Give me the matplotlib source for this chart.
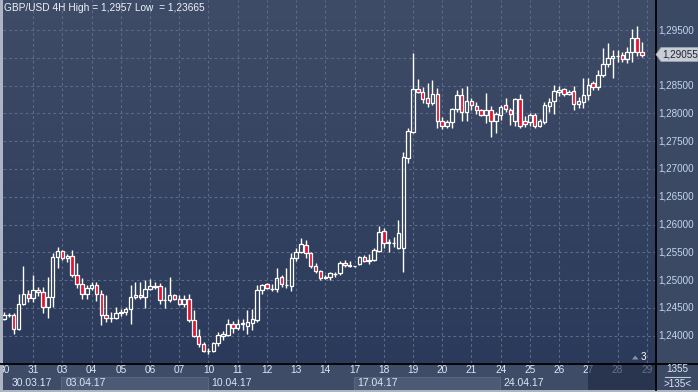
import numpy as np
import matplotlib.pyplot as plt
from matplotlib.patches import Rectangle, Polygon
from matplotlib.lines import Line2D
from matplotlib.colors import LinearSegmentedColormap
from matplotlib.transforms import blended_transform_factory

plt.rcParams['font.family'] = ['Liberation Sans', 'DejaVu Sans']

# GBP/USD 4H candles, 30.03.17 - 28.04.17
opens = [1.2430, 1.2437, 1.2437, 1.2412, 1.2457, 1.2475, 1.2468, 1.2482, 1.2478, 1.2451,
         1.2469, 1.2541, 1.2552, 1.2540, 1.2543, 1.2509, 1.2493, 1.2475, 1.2486, 1.2491,
         1.2475, 1.2437, 1.2432, 1.2432, 1.2441, 1.2442, 1.2448, 1.2469, 1.2473, 1.2470,
         1.2484, 1.2488, 1.2490, 1.2464, 1.2464, 1.2473, 1.2466, 1.2457, 1.2466, 1.2428,
         1.2399, 1.2385, 1.2372, 1.2373, 1.2387, 1.2400, 1.2401, 1.2421, 1.2414, 1.2421,
         1.2418, 1.2423, 1.2428, 1.2482, 1.2493, 1.2485, 1.2484, 1.2505, 1.2492, 1.2489,
         1.2540, 1.2550, 1.2563, 1.2549, 1.2525, 1.2516, 1.2504, 1.2505, 1.2512, 1.2513,
         1.2531, 1.2527, 1.2525, 1.2529, 1.2541, 1.2534, 1.2536, 1.2552, 1.2588, 1.2567,
         1.2566, 1.2558, 1.2558, 1.2720, 1.2766, 1.2844, 1.2838, 1.2828, 1.2819, 1.2835,
         1.2786, 1.2777, 1.2784, 1.2808, 1.2833, 1.2802, 1.2822, 1.2814, 1.2806, 1.2797,
         1.2806, 1.2786, 1.2797, 1.2815, 1.2806, 1.2786, 1.2826, 1.2786, 1.2784, 1.2797,
         1.2777, 1.2784, 1.2813, 1.2822, 1.2838, 1.2844, 1.2835, 1.2840, 1.2817, 1.2820,
         1.2833, 1.2855, 1.2847, 1.2869, 1.2889, 1.2900, 1.2903, 1.2905, 1.2898, 1.2910,
         1.2936, 1.2910]
highs = [1.2442, 1.2441, 1.2441, 1.2475, 1.2525, 1.2482, 1.2509, 1.2487, 1.2487, 1.2505,
         1.2549, 1.2559, 1.2554, 1.2547, 1.2554, 1.2530, 1.2504, 1.2491, 1.2496, 1.2496,
         1.2482, 1.2473, 1.2442, 1.2451, 1.2448, 1.2451, 1.2491, 1.2496, 1.2496, 1.2500,
         1.2502, 1.2496, 1.2495, 1.2487, 1.2505, 1.2475, 1.2473, 1.2473, 1.2475, 1.2446,
         1.2412, 1.2388, 1.2378, 1.2389, 1.2406, 1.2408, 1.2430, 1.2426, 1.2430, 1.2430,
         1.2446, 1.2448, 1.2491, 1.2493, 1.2495, 1.2493, 1.2522, 1.2509, 1.2522, 1.2549,
         1.2558, 1.2575, 1.2572, 1.2550, 1.2531, 1.2518, 1.2509, 1.2514, 1.2514, 1.2534,
         1.2536, 1.2534, 1.2526, 1.2543, 1.2545, 1.2547, 1.2558, 1.2597, 1.2594, 1.2574,
         1.2577, 1.2608, 1.2730, 1.2774, 1.2909, 1.2862, 1.2847, 1.2855, 1.2860, 1.2846,
         1.2793, 1.2788, 1.2810, 1.2842, 1.2846, 1.2849, 1.2828, 1.2820, 1.2808, 1.2837,
         1.2813, 1.2802, 1.2815, 1.2828, 1.2810, 1.2828, 1.2835, 1.2795, 1.2801, 1.2801,
         1.2790, 1.2820, 1.2828, 1.2851, 1.2849, 1.2846, 1.2842, 1.2849, 1.2829, 1.2864,
         1.2864, 1.2858, 1.2878, 1.2918, 1.2927, 1.2914, 1.2914, 1.2910, 1.2919, 1.2952,
         1.2957, 1.2928]
lows = [1.2428, 1.2433, 1.2403, 1.2410, 1.2455, 1.2460, 1.2460, 1.2471, 1.2441, 1.2432,
        1.2451, 1.2522, 1.2536, 1.2532, 1.2505, 1.2486, 1.2466, 1.2466, 1.2482, 1.2462,
        1.2419, 1.2424, 1.2424, 1.2430, 1.2435, 1.2437, 1.2421, 1.2466, 1.2466, 1.2450,
        1.2482, 1.2484, 1.2457, 1.2450, 1.2460, 1.2464, 1.2455, 1.2451, 1.2424, 1.2397,
        1.2379, 1.2370, 1.23665, 1.2371, 1.2381, 1.2392, 1.2399, 1.2405, 1.2410, 1.2410,
        1.2403, 1.2410, 1.2424, 1.2475, 1.2484, 1.2480, 1.2478, 1.2487, 1.2486, 1.2480,
        1.2534, 1.2549, 1.2540, 1.2522, 1.2513, 1.2500, 1.2502, 1.2500, 1.2505, 1.2509,
        1.2523, 1.2523, 1.2524, 1.2527, 1.2532, 1.2529, 1.2534, 1.2550, 1.2558, 1.2550,
        1.2559, 1.2556, 1.2514, 1.2711, 1.2765, 1.2837, 1.2819, 1.2811, 1.2815, 1.2774,
        1.2772, 1.2774, 1.2774, 1.2802, 1.2786, 1.2786, 1.2806, 1.2799, 1.2795, 1.2783,
        1.2757, 1.2765, 1.2788, 1.2802, 1.2779, 1.2777, 1.2774, 1.2775, 1.2777, 1.2774,
        1.2775, 1.2781, 1.2802, 1.2799, 1.2831, 1.2831, 1.2833, 1.2806, 1.2810, 1.2810,
        1.2824, 1.2842, 1.2842, 1.2865, 1.2883, 1.2864, 1.2892, 1.2892, 1.2891, 1.2892,
        1.2903, 1.2901]
closes = [1.2437, 1.2438, 1.2412, 1.2457, 1.2475, 1.2468, 1.2482, 1.2478, 1.2451, 1.2469,
          1.2541, 1.2552, 1.2540, 1.2543, 1.2509, 1.2493, 1.2475, 1.2486, 1.2491, 1.2475,
          1.2437, 1.2432, 1.2432, 1.2441, 1.2442, 1.2448, 1.2469, 1.2473, 1.2470, 1.2484,
          1.2489, 1.2490, 1.2464, 1.2465, 1.2473, 1.2466, 1.2457, 1.2466, 1.2428, 1.2399,
          1.2385, 1.2372, 1.2373, 1.2387, 1.2401, 1.2403, 1.2421, 1.2414, 1.2421, 1.2423,
          1.2424, 1.2430, 1.2482, 1.2491, 1.2486, 1.2485, 1.2504, 1.2493, 1.2492, 1.2540,
          1.2550, 1.2565, 1.2549, 1.2525, 1.2516, 1.2504, 1.2505, 1.2513, 1.2512, 1.2531,
          1.2527, 1.2525, 1.2525, 1.2541, 1.2534, 1.2537, 1.2554, 1.2586, 1.2567, 1.2568,
          1.2566, 1.2585, 1.2721, 1.2768, 1.2844, 1.2838, 1.2826, 1.2819, 1.2835, 1.2786,
          1.2777, 1.2784, 1.2808, 1.2833, 1.2802, 1.2822, 1.2815, 1.2806, 1.2797, 1.2806,
          1.2786, 1.2799, 1.2811, 1.2808, 1.2799, 1.2826, 1.2777, 1.2781, 1.2797, 1.2777,
          1.2786, 1.2815, 1.2820, 1.2840, 1.2842, 1.2835, 1.2838, 1.2817, 1.2822, 1.2833,
          1.2851, 1.2847, 1.2869, 1.2889, 1.2900, 1.2903, 1.2904, 1.2898, 1.2910, 1.2936,
          1.2910, 1.29055]

day_labels = ['30', '31', '03', '04', '05', '06', '07', '10', '11', '12', '13', '14',
              '17', '18', '19', '20', '21', '24', '25', '26', '27', '28', '29']
week_labels = ['30.03.17', '03.04.17', '10.04.17', '17.04.17', '24.04.17']
week_start = [1.6, 12.6, 42.6, 72.6, 102.6]
price_ticks = [1.240, 1.245, 1.250, 1.255, 1.260, 1.265, 1.270, 1.275, 1.280, 1.285, 1.290, 1.295]
last_price = 1.29055

W, H = 698, 392
red = '#e8102c'
txt = '#c4d6f2'
fs = 7.1

fig = plt.figure(figsize=(6.98, 3.92), dpi=100)
fig.patch.set_facecolor('#3c4964')

ax = fig.add_axes([3 / W, 29 / H, 652 / W, 363 / H])
bg = LinearSegmentedColormap.from_list('bg', ['#3f4c67', '#2b3a5b'])
ax.imshow(np.linspace(0, 1, 256).reshape(-1, 1), cmap=bg, extent=[0, 1, 0, 1],
          transform=ax.transAxes, aspect='auto', zorder=0)
ax.set_xlim(-0.2, 133.7)
ax.set_ylim(1.2351, 1.3004)
ax.set_xticks([])
ax.set_yticks([])
for s in ax.spines.values():
    s.set_visible(False)

grid_kw = dict(color='#5d6a86', lw=0.8, ls=(0, (2.5, 2.5)), zorder=1)
for p in price_ticks:
    ax.axhline(p, **grid_kw)
for i in range(6, 133, 6):
    ax.axvline(i, **grid_kw)

for i, (o, h, l, c) in enumerate(zip(opens, highs, lows, closes)):
    top, bot = max(o, c), min(o, c)
    ax.plot([i, i], [top, h], color='white', lw=1, zorder=3, solid_capstyle='butt')
    ax.plot([i, i], [l, bot], color='white', lw=1, zorder=3, solid_capstyle='butt')
    ax.add_patch(Rectangle((i - 0.36, bot), 0.72, top - bot,
                           facecolor=red if c < o else 'none',
                           edgecolor='white', lw=0.9, zorder=4))

# price scale on the right
tr = blended_transform_factory(ax.transAxes, ax.transData)
for p in price_ticks:
    if p == 1.290:
        continue
    ax.text(1.005, p, f'{p:.5f}'.replace('.', ','), transform=tr, ha='left', va='center',
            color=txt, fontsize=fs, clip_on=False)

# current price marker
def fp(x, y):
    return (x / W, 1 - y / H)

fig.patches.append(Polygon([fp(656, 54.5), fp(661, 47.5), fp(698, 47.5), fp(698, 61.5), fp(661, 61.5)],
                           closed=True, facecolor='#c9ced6', edgecolor='#9aa2ae', lw=0.6,
                           transform=fig.transFigure, figure=fig, zorder=5))
fig.text(662 / W, 1 - 54.5 / H, f'{last_price:.5f}'.replace('.', ','), ha='left', va='center',
         color='#1e2230', fontsize=fs, zorder=6)

fig.text(4 / W, 1 - 8 / H, 'GBP/USD 4H High = 1,2957 Low  = 1,23665', ha='left', va='center',
         color='#eef2fa', fontsize=7.3)

# time scale
axb = fig.add_axes([3 / W, 2 / H, 652 / W, 27 / H], sharex=ax)
axb.set_facecolor('#3f4c67')
axb.set_ylim(0, 27)
axb.set_xticks([])
axb.set_yticks([])
for s in axb.spines.values():
    s.set_visible(False)
axb.add_patch(Rectangle((11.8, 0), 30, 13.3, facecolor='#4d5a75', edgecolor='#5d6a84', lw=0.6))
axb.add_patch(Rectangle((71.8, 0), 30, 13.3, facecolor='#4d5a75', edgecolor='#5d6a84', lw=0.6))
for k, lab in enumerate(day_labels):
    axb.text(k * 6, 20, lab, ha='center', va='center', color='#dce6f5', fontsize=7.3,
             clip_on=False)
for x0, lab in zip(week_start, week_labels):
    axb.text(x0, 6.5, lab, ha='left', va='center', color='#dce6f5', fontsize=7.5)
axb.add_patch(Rectangle((119.9, 0), 20, 27, facecolor='#1b2540', alpha=0.6, lw=0, zorder=5))

# frame lines
fig.add_artist(Line2D([655.5 / W, 655.5 / W], [2 / H, 1], color='black', lw=1.3,
                      transform=fig.transFigure))
fig.add_artist(Line2D([0, 1], [1 - 363.5 / H, 1 - 363.5 / H], color='black', lw=1.3,
                      transform=fig.transFigure))
fig.patches.append(Rectangle((0, 0), 2.5 / W, 1, facecolor='#aeb5c2', lw=0,
                             transform=fig.transFigure, figure=fig))
fig.patches.append(Rectangle((0, 0), 1, 2 / H, facecolor='#aeb5c2', lw=0,
                             transform=fig.transFigure, figure=fig))

# small widgets
fig.text(677 / W, 1 - 369 / H, '1355', ha='center', va='center', color='#dce6f5', fontsize=fs)
fig.add_artist(Line2D([665 / W, 690 / W], [1 - 376.5 / H, 1 - 376.5 / H], color='#c0ccdd',
                      lw=0.8, transform=fig.transFigure))
fig.text(677 / W, 1 - 384 / H, '>135<', ha='center', va='center', color='#dce6f5', fontsize=fs)
fig.text(643 / W, 1 - 357 / H, '3', ha='center', va='center', color='white', fontsize=fs)
fig.patches.append(Polygon([fp(632, 359.5), fp(638.5, 359.5), fp(635.2, 355.5)], closed=True,
                           facecolor='#8793a8', lw=0, transform=fig.transFigure, figure=fig))

fig.savefig('out.png', dpi=100)
